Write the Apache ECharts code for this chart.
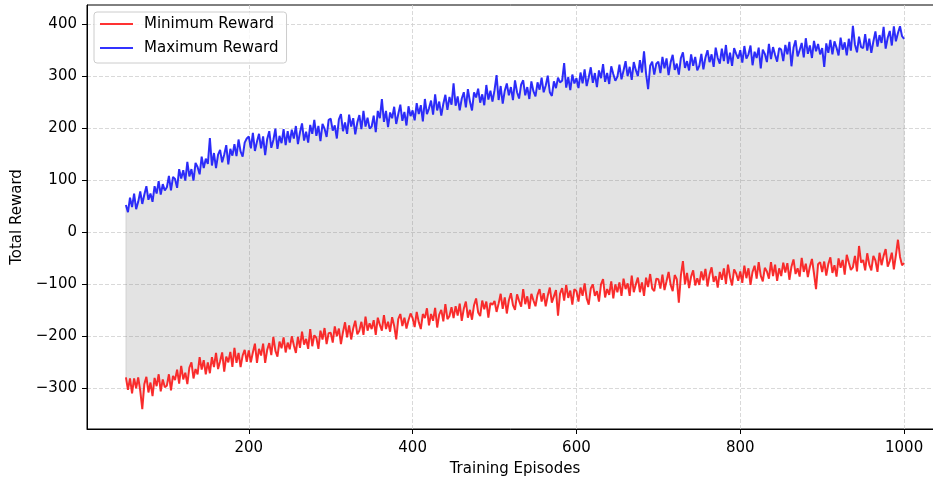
<!DOCTYPE html>
<html>
<head>
<meta charset="utf-8">
<script src="https://cdn.jsdelivr.net/npm/echarts@6.0.0/dist/echarts.min.js"></script>
<style>
  html, body { margin: 0; padding: 0; background: #fff; }
  #chart { width: 933px; height: 481px; }
</style>
</head>
<body>
<div id="chart"></div>
<script>
// episodes 50..1000, sampled every 2.5 (one row = 50 episodes)
var episodeStart = 50;
var episodeStep = 2.5;

var maxReward = [
  52, 38, 66, 48, 74, 44, 58, 78, 54, 72, 88, 62, 74, 58, 88, 74, 98, 72, 92, 80,
  86, 108, 80, 106, 102, 85, 121, 103, 119, 99, 135, 107, 121, 99, 133, 125, 111, 145, 123, 141,
  131, 181, 128, 152, 123, 149, 158, 134, 149, 167, 130, 160, 147, 169, 146, 178, 155, 145, 172, 180,
  184, 161, 191, 156, 174, 189, 161, 184, 148, 179, 194, 162, 177, 199, 160, 185, 171, 198, 167, 194,
  172, 197, 180, 204, 169, 192, 209, 176, 193, 172, 206, 189, 216, 185, 204, 175, 208, 199, 183, 216,
  218, 195, 205, 180, 217, 227, 194, 211, 189, 226, 203, 219, 188, 211, 225, 198, 233, 203, 220, 199,
  203, 224, 192, 233, 219, 256, 212, 233, 202, 230, 219, 241, 208, 227, 245, 214, 231, 205, 242, 223,
  234, 215, 248, 227, 244, 213, 256, 227, 238, 253, 226, 265, 234, 251, 224, 247, 264, 235, 260, 245,
  286, 243, 261, 234, 257, 269, 240, 275, 251, 234, 269, 259, 276, 249, 265, 244, 283, 255, 272, 251,
  273, 302, 254, 281, 247, 272, 286, 263, 279, 254, 292, 269, 257, 284, 292, 263, 279, 256, 290, 271,
  261, 288, 274, 297, 269, 282, 301, 269, 262, 290, 277, 297, 288, 291, 325, 278, 298, 273, 303, 286,
  296, 277, 307, 286, 313, 281, 298, 317, 287, 306, 279, 311, 296, 323, 289, 306, 285, 319, 304, 291,
  299, 322, 294, 311, 329, 300, 318, 293, 327, 312, 300, 331, 307, 348, 305, 275, 320, 328, 303, 324,
  328, 306, 337, 315, 334, 302, 327, 341, 312, 324, 303, 335, 346, 316, 329, 311, 342, 320, 337, 311,
  320, 343, 313, 336, 350, 327, 342, 318, 355, 335, 324, 353, 329, 360, 324, 345, 320, 354, 343, 334,
  350, 326, 358, 334, 342, 359, 321, 347, 335, 355, 315, 351, 343, 327, 362, 333, 356, 341, 328, 354,
  351, 329, 360, 342, 366, 319, 355, 369, 338, 350, 364, 336, 373, 343, 359, 335, 368, 348, 362, 342,
  354, 318, 363, 345, 370, 342, 367, 355, 340, 374, 351, 365, 340, 372, 349, 397, 361, 346, 376, 356,
  354, 381, 349, 372, 345, 367, 386, 357, 379, 364, 395, 353, 374, 387, 359, 396, 367, 383, 396, 377,
  372
];

var minReward = [
  -280, -304, -282, -311, -282, -301, -280, -306, -341, -293, -279, -309, -290, -316, -281, -297, -274, -307, -284, -299,
  -296, -274, -305, -277, -285, -265, -292, -258, -284, -271, -293, -261, -251, -282, -264, -274, -241, -265, -247, -274,
  -251, -272, -241, -260, -233, -264, -249, -232, -269, -240, -251, -231, -260, -223, -252, -233, -260, -238, -227, -250,
  -228, -251, -232, -215, -252, -225, -238, -215, -252, -227, -214, -237, -202, -229, -240, -211, -224, -203, -232, -213,
  -226, -201, -218, -233, -202, -223, -192, -217, -206, -225, -187, -220, -199, -204, -225, -190, -207, -185, -216, -195,
  -194, -213, -182, -201, -186, -216, -193, -174, -203, -180, -207, -186, -171, -197, -190, -173, -198, -163, -190, -176,
  -187, -170, -198, -165, -179, -190, -160, -187, -173, -192, -164, -181, -207, -168, -158, -181, -165, -186, -170, -157,
  -166, -183, -154, -174, -187, -158, -166, -147, -180, -158, -171, -146, -184, -159, -150, -172, -139, -168, -162, -145,
  -166, -143, -161, -138, -171, -148, -134, -165, -150, -169, -141, -128, -155, -162, -132, -149, -134, -165, -137, -140,
  -133, -154, -138, -119, -148, -126, -157, -132, -118, -141, -150, -120, -133, -144, -110, -139, -124, -148, -119, -132,
  -143, -121, -110, -134, -118, -143, -123, -107, -136, -124, -112, -161, -119, -108, -132, -102, -127, -113, -140, -110,
  -114, -134, -107, -123, -99, -128, -140, -109, -101, -123, -114, -134, -101, -91, -126, -110, -121, -95, -128, -101,
  -116, -97, -123, -90, -110, -99, -123, -84, -116, -101, -88, -116, -97, -123, -88, -106, -81, -109, -114, -90,
  -91, -109, -82, -112, -95, -77, -102, -114, -83, -91, -136, -84, -56, -101, -79, -108, -86, -74, -103, -89,
  -102, -76, -93, -71, -105, -82, -68, -96, -85, -107, -77, -92, -70, -100, -63, -87, -103, -72, -80, -94,
  -76, -98, -65, -89, -70, -102, -77, -65, -90, -58, -84, -95, -69, -76, -90, -58, -85, -63, -94, -70,
  -85, -59, -78, -60, -92, -67, -53, -81, -70, -86, -50, -77, -61, -87, -67, -52, -80, -110, -62, -58,
  -77, -57, -84, -62, -49, -79, -64, -86, -51, -69, -54, -82, -44, -59, -73, -68, -46, -76, -27, -59,
  -54, -74, -41, -63, -74, -46, -55, -77, -40, -64, -46, -33, -67, -56, -40, -72, -45, -15, -48, -64,
  -60
];

var xTicks = [200, 400, 600, 800, 1000];
var yTicks = [-300, -200, -100, 0, 100, 200, 300, 400];

var episodes = [];
for (var i = 0; i < maxReward.length; i++) {
  episodes.push(episodeStart + i * episodeStep);
}

var minData = [], maxData = [];
for (var j = 0; j < episodes.length; j++) {
  minData.push([episodes[j], minReward[j]]);
  maxData.push([episodes[j], maxReward[j]]);
}

var FONT = 'DejaVu Sans';
var FS = 15;
var BAND = 'rgba(128,128,128,0.22)';

// shaded region between min and max (fill_between)
function renderBand(params, api) {
  if (params.dataIndex !== 0) return null;
  var pts = [];
  for (var k = 0; k < episodes.length; k++) {
    pts.push(api.coord([episodes[k], maxReward[k]]));
  }
  for (var m = episodes.length - 1; m >= 0; m--) {
    pts.push(api.coord([episodes[m], minReward[m]]));
  }
  return {
    type: 'polygon',
    shape: { points: pts },
    style: { fill: BAND, stroke: BAND, lineWidth: 1 }
  };
}

var myChart = echarts.init(document.getElementById('chart'));

var option = {
  animation: false,
  textStyle: { fontFamily: FONT },
  grid: {
    left: 87,
    right: -10,
    top: 5,
    bottom: 52,
    show: true,
    borderColor: '#000',
    borderWidth: 1,
    backgroundColor: 'transparent',
    outerBoundsMode: 'none'
  },
  legend: {
    orient: 'vertical',
    left: 94,
    top: 12,
    data: [
      { name: 'Minimum Reward', icon: 'rect' },
      { name: 'Maximum Reward', icon: 'rect' }
    ],
    itemWidth: 33,
    itemHeight: 2,
    itemGap: 8,
    padding: [4, 8, 7, 6],
    borderColor: '#cccccc',
    borderWidth: 1,
    borderRadius: 3,
    backgroundColor: 'rgba(255,255,255,0.8)',
    textStyle: {
      fontFamily: FONT,
      fontSize: FS,
      color: '#000',
      lineHeight: 16,
      padding: [0, 0, 0, 6]
    }
  },
  xAxis: {
    type: 'value',
    min: 2.5,
    max: 1047.5,
    name: 'Training Episodes',
    nameLocation: 'middle',
    nameGap: 33,
    nameTextStyle: { fontFamily: FONT, fontSize: FS, color: '#000' },
    axisLine: { show: true, onZero: false, lineStyle: { color: '#000', width: 1 } },
    axisTick: { show: true, inside: false, length: 5, customValues: xTicks, lineStyle: { color: '#000', width: 1 } },
    axisLabel: {
      customValues: xTicks,
      margin: 12,
      fontFamily: FONT,
      fontSize: FS,
      color: '#000',
      formatter: function (v) { return String(v); }
    },
    splitLine: { show: true, lineStyle: { color: '#cfcfcf', width: 0.8, type: [4, 2] } }
  },
  yAxis: {
    type: 'value',
    min: -379.4,
    max: 437,
    name: 'Total Reward',
    nameLocation: 'middle',
    nameGap: 58,
    nameTextStyle: { fontFamily: FONT, fontSize: FS, color: '#000' },
    axisLine: { show: true, onZero: false, lineStyle: { color: '#000', width: 1 } },
    axisTick: { show: true, inside: false, length: 5, customValues: yTicks, lineStyle: { color: '#000', width: 1 } },
    axisLabel: {
      customValues: yTicks,
      margin: 10,
      fontFamily: FONT,
      fontSize: FS,
      color: '#000',
      formatter: function (v) { return String(v).replace('-', '\u2212'); }
    },
    splitLine: { show: true, lineStyle: { color: '#cfcfcf', width: 0.8, type: [4, 2] } }
  },
  series: [
    {
      name: 'band',
      type: 'custom',
      silent: true,
      renderItem: renderBand,
      data: minData
    },
    {
      name: 'Minimum Reward',
      type: 'line',
      symbol: 'none',
      color: 'rgba(255,0,0,0.8)',
      lineStyle: { color: 'rgba(255,0,0,0.8)', width: 2 },
      data: minData
    },
    {
      name: 'Maximum Reward',
      type: 'line',
      symbol: 'none',
      color: 'rgba(0,0,255,0.8)',
      lineStyle: { color: 'rgba(0,0,255,0.8)', width: 2 },
      data: maxData
    }
  ]
};

myChart.setOption(option);
window.addEventListener('resize', function () {
  myChart.resize();
});
</script>
</body>
</html>
